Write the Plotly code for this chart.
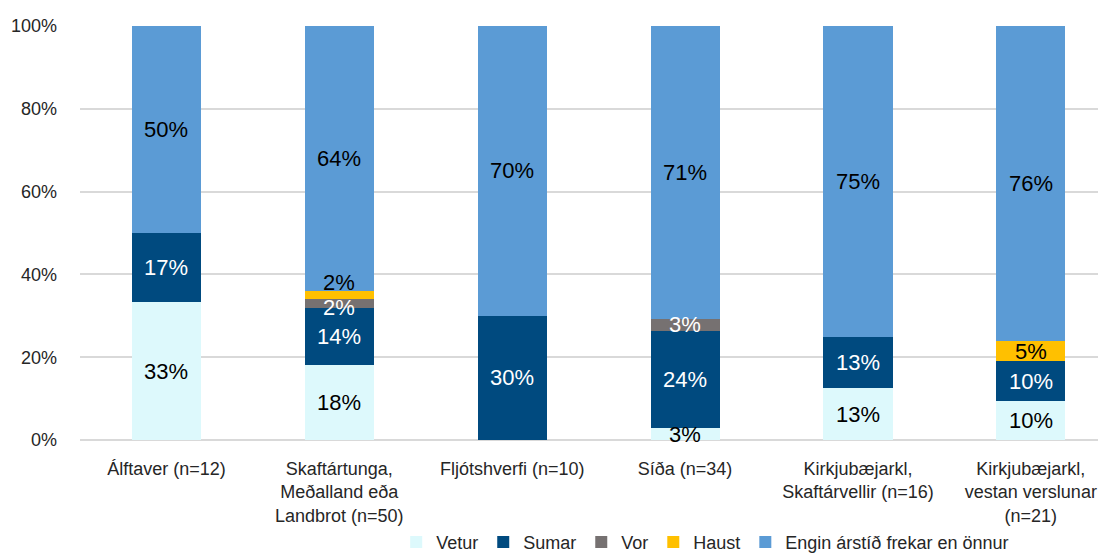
import math
import plotly.graph_objects as go

categories = [
    "Álftaver (n=12)",
    "Skaftártunga,<br>Meðalland eða<br>Landbrot (n=50)",
    "Fljótshverfi (n=10)",
    "Síða (n=34)",
    "Kirkjubæjarkl,<br>Skaftárvellir (n=16)",
    "Kirkjubæjarkl,<br>vestan verslunar<br>(n=21)",
]
vetur = [33.3, 18, 0, 2.9, 12.5, 9.5]
sumar = [16.7, 14, 30, 23.5, 12.5, 9.5]
vor = [0, 2, 0, 2.9, 0, 0]
haust = [0, 2, 0, 0, 0, 4.8]
engin = [50, 64, 70, 70.6, 75, 76.2]

series = [
    ("Vetur", vetur, "#DDF9FC", "#000000"),
    ("Sumar", sumar, "#004A7F", "#FFFFFF"),
    ("Vor", vor, "#767171", "#FFFFFF"),
    ("Haust", haust, "#FFC000", "#000000"),
    ("Engin árstíð frekar en önnur", engin, "#5B9BD5", "#000000"),
]

# per-label vertical nudges (pixels) for crowded small segments
nudges = {("Haust", 1): 13, ("Vor", 1): -4}

FONT = "Liberation Sans, Arial, sans-serif"
TXT = "#262626"

fig = go.Figure()
annotations = []
base = [0.0] * len(categories)
for name, vals, color, tcolor in series:
    fig.add_trace(go.Bar(
        name=name, x=categories, y=vals, marker=dict(color=color, line=dict(width=0)),
        width=0.4,
    ))
    for i, v in enumerate(vals):
        if v > 0:
            annotations.append(dict(
                x=categories[i], y=base[i] + v / 2, text=f"{math.floor(v + 0.5)}%",
                showarrow=False, font=dict(family=FONT, size=22, color=tcolor),
                yshift=nudges.get((name, i), 0),
            ))
        base[i] += v

fig.update_layout(
    barmode="stack",
    width=1098, height=546,
    margin=dict(l=72, r=6, t=18, b=114, autoexpand=False),
    paper_bgcolor="white", plot_bgcolor="white",
    font=dict(family=FONT, size=18, color=TXT),
    annotations=annotations,
    showlegend=True,
    legend=dict(orientation="h", x=0.31, xanchor="left", y=-0.247, yanchor="middle",
                font=dict(family=FONT, size=18, color=TXT), itemwidth=30,
                traceorder="normal", tracegroupgap=0, itemclick=False,
                bgcolor="rgba(0,0,0,0)"),
)
fig.update_xaxes(range=[-0.5, 5.4], showgrid=False, showline=False, ticks="",
                 automargin=False, ticklabelstandoff=16,
                 tickfont=dict(family=FONT, size=18, color=TXT))
fig.update_yaxes(range=[0, 100], dtick=20, ticksuffix="%", showgrid=True,
                 gridcolor="#D9D9D9", gridwidth=1.5, zeroline=True, zerolinecolor="#D9D9D9",
                 zerolinewidth=1.5, showline=False, ticks="", ticklabelstandoff=22,
                 automargin=False,
                 tickfont=dict(family=FONT, size=18, color=TXT))

fig.write_html("out.html")
